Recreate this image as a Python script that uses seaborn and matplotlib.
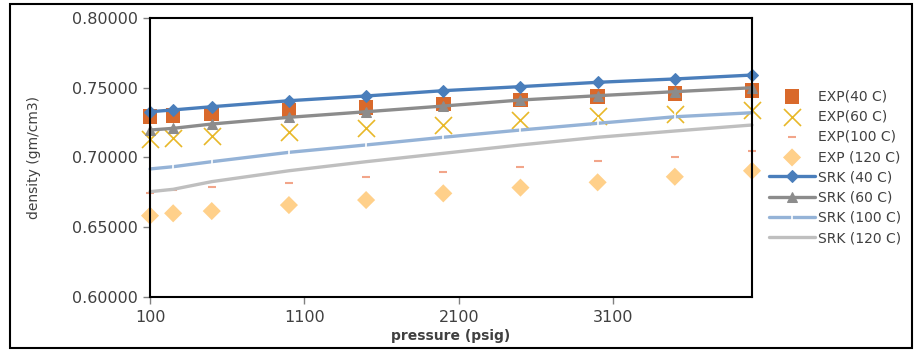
import numpy as np
import pandas as pd
import seaborn as sns
import matplotlib
matplotlib.use("Agg")
import matplotlib.pyplot as plt
from matplotlib.patches import Rectangle
from matplotlib.ticker import FormatStrFormatter, MultipleLocator

sns.set_style("white")
plt.rcParams['font.family'] = ['DejaVu Sans']

pressure = [100, 250, 500, 1000, 1500, 2000, 2500, 3000, 3500, 4000]

exp_40 = [0.7292, 0.7300, 0.7312, 0.7336, 0.7360, 0.7384, 0.7412, 0.7436, 0.7460, 0.7479]
exp_60 = [0.7130, 0.7138, 0.7154, 0.7185, 0.7209, 0.7233, 0.7269, 0.7297, 0.7312, 0.7341]
exp_100 = [0.6748, 0.6767, 0.6786, 0.6815, 0.6858, 0.6898, 0.6934, 0.6975, 0.7006, 0.7049]
exp_120 = [0.6583, 0.6600, 0.6616, 0.6659, 0.6695, 0.6743, 0.6784, 0.6822, 0.6862, 0.6905]

srk_40 = [0.7328, 0.7341, 0.7364, 0.7407, 0.7441, 0.7479, 0.7508, 0.7539, 0.7563, 0.7591]
srk_60 = [0.7197, 0.7209, 0.7240, 0.7288, 0.7328, 0.7369, 0.7412, 0.7443, 0.7472, 0.7500]
srk_100 = [0.6918, 0.6934, 0.6970, 0.7037, 0.7090, 0.7145, 0.7197, 0.7245, 0.7292, 0.7321]
srk_120 = [0.6755, 0.6772, 0.6827, 0.6905, 0.6970, 0.7030, 0.7090, 0.7145, 0.7190, 0.7233]

fig = plt.figure(figsize=(9.22, 3.52), dpi=100)
ax = fig.add_axes([150 / 922, 1 - 297 / 352, (752 - 150) / 922, (297 - 18) / 352])

# experimental points
sns.scatterplot(x=pressure, y=exp_40, ax=ax, marker='s', s=110, color='#D9692B',
                edgecolor='none', label='EXP(40 C)', zorder=2, clip_on=False)
sns.scatterplot(x=pressure, y=exp_60, ax=ax, marker='x', s=150, color='#E8B828',
                linewidth=1.2, label='EXP(60 C)', zorder=2, clip_on=False)
sns.scatterplot(x=pressure, y=exp_100, ax=ax, marker='_', s=40, color='#F2A58A',
                linewidth=1.5, label='EXP(100 C)', zorder=2, clip_on=False)
sns.scatterplot(x=pressure, y=exp_120, ax=ax, marker='D', s=85, color='#FFD08A',
                edgecolor='none', label='EXP (120 C)', zorder=2, clip_on=False)

# SRK model lines
sns.lineplot(x=pressure, y=srk_40, ax=ax, color='#4A7EBB', lw=2.4, marker='D',
             markersize=6, markeredgecolor='#4A7EBB', label='SRK (40 C)', zorder=3,
             clip_on=False)
sns.lineplot(x=pressure, y=srk_60, ax=ax, color='#8C8C8C', lw=2.4, marker='^',
             markersize=7, markeredgecolor='#8C8C8C', label='SRK (60 C)', zorder=3,
             clip_on=False)
sns.lineplot(x=pressure, y=srk_100, ax=ax, color='#95B3D7', lw=2.4, marker='|',
             markersize=9, markeredgewidth=1.2, label='SRK (100 C)', zorder=3,
             clip_on=False)
sns.lineplot(x=pressure, y=srk_120, ax=ax, color='#BFBFBF', lw=2.4,
             label='SRK (120 C)', zorder=3, clip_on=False)

ax.set_xlim(100, 4000)
ax.set_ylim(0.6, 0.8)
ax.yaxis.set_major_locator(MultipleLocator(0.05))
ax.yaxis.set_major_formatter(FormatStrFormatter('%.5f'))
ax.set_xticks([100, 1100, 2100, 3100])

for sp in ax.spines.values():
    sp.set_color('black')
    sp.set_linewidth(1.5)
    sp.set_zorder(5)
ax.tick_params(axis='both', direction='out', length=5, width=1, color='#808080',
               labelsize=11.5, labelcolor='#404040', pad=4, left=True, bottom=True)

ax.set_xlabel('pressure (psig)', fontsize=10, fontweight='bold', color='#404040', labelpad=3)
ax.set_ylabel('density (gm/cm3)', fontsize=10, color='#404040', labelpad=22)

ax.legend(frameon=False, fontsize=10, labelspacing=0.45, handlelength=3.3,
          handletextpad=0.2, labelcolor='#404040', loc='center left')
leg = ax.get_legend()
leg.set_bbox_to_anchor((752 / 922 + 0.005, 0.525), transform=fig.transFigure)

fig.patches.append(Rectangle((10 / 922, 4 / 352), 902 / 922, 344 / 352,
                             transform=fig.transFigure, fill=False,
                             edgecolor='black', linewidth=1.5))

fig.savefig('out.png', dpi=100)
